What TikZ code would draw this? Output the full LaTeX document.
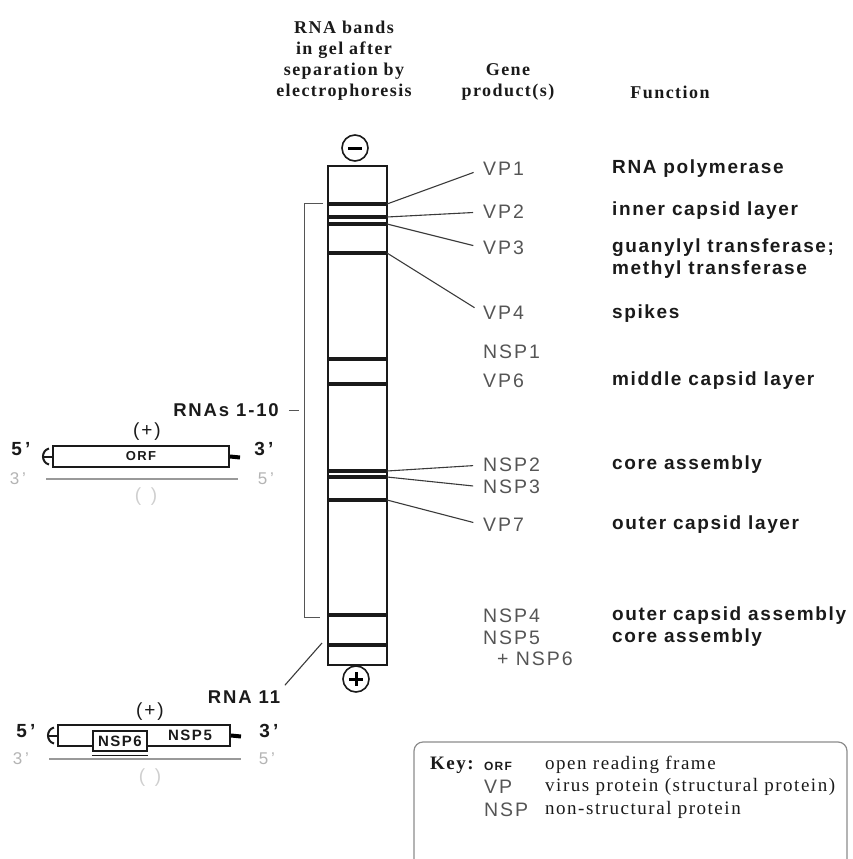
\documentclass[tikz,border=0pt]{standalone}
\usepackage{fontspec}
\setmainfont{Liberation Serif}
\setsansfont{Liberation Sans}
\newfontfamily\wideSans[LetterSpace=10]{Liberation Sans}
\newfontfamily\funcSans[LetterSpace=8.5]{Liberation Sans}
\newfontfamily\wideSerif[LetterSpace=8]{Liberation Serif}
\usetikzlibrary{calc}
\definecolor{Ink}{HTML}{1A1A1A}
\definecolor{GeneGray}{HTML}{555555}
\definecolor{LeadGray}{HTML}{3A3A3A}
\definecolor{StrandGray}{HTML}{999999}
\definecolor{PaleGray}{HTML}{B4B4B4}
\definecolor{FaintGray}{HTML}{CFCFCF}
\definecolor{RuleGray}{HTML}{8C8C8C}
\tikzset{
  hdr/.style={align=center, text=Ink, inner sep=0pt,
    font=\wideSerif\bfseries\fontsize{18}{21}\selectfont},
  gene/.style={anchor=west, inner sep=0pt, text=GeneGray,
    font=\wideSans\fontsize{19.5}{22}\selectfont},
  func/.style={anchor=west, inner sep=0pt, text=Ink, align=left,
    font=\funcSans\bfseries\fontsize{19}{22}\selectfont},
  seg/.style={inner sep=0pt, text=Ink,
    font=\wideSans\bfseries\fontsize{18.5}{22}\selectfont},
  gelbox/.style={draw=Ink, line width=2pt},
  band/.style={draw=Ink, line width=3.6pt},
  lead/.style={draw=LeadGray, line width=1.1pt, shorten >=10pt},
  brace/.style={draw=GeneGray, line width=1pt},
  pole/.style={circle, draw=Ink, line width=1.6pt, minimum size=26pt, inner sep=0pt},
  rnabox/.style={rectangle, draw=Ink, line width=2pt, inner sep=0pt,
    minimum height=21pt, text=Ink,
    font=\wideSans\bfseries\fontsize{13}{15}\selectfont},
  rnaline/.style={draw=Ink, line width=2pt},
  strand/.style={draw=StrandGray, line width=2.5pt},
  plus/.style={inner sep=0pt, text=Ink, font=\wideSans\fontsize{19}{22}\selectfont},
  prime/.style={inner sep=0pt, text=Ink, font=\sffamily\bfseries\fontsize{19}{22}\selectfont},
  paleprime/.style={prime, text=PaleGray, font=\sffamily\fontsize{17}{20}\selectfont},
  minus/.style={plus, text=FaintGray},
  keyhd/.style={anchor=west, inner sep=0pt, text=Ink,
    font=\wideSerif\bfseries\fontsize{19}{22}\selectfont},
  keyab/.style={gene},
  keytxt/.style={anchor=west, inner sep=0pt, text=Ink,
    font=\wideSerif\fontsize{19}{22}\selectfont},
}
\begin{document}
\begin{tikzpicture}[x=1pt, y=-1pt]
  \useasboundingbox (0,0) rectangle (852,859);

  % column headings
  \node (hgel)  [hdr] at (344,61) {RNA bands\\in gel after\\separation by\\electrophoresis};
  \node (hgene) [hdr] at (508,82) {Gene\\product(s)};
  \node (hfun)  [hdr] at (670,92) {Function};

  % the gel and its bands
  \draw[gelbox] (328,166) rectangle (387,665);
  \foreach \y [count=\i] in {204,217,224,253,359,384,471,477,500,615,645}
    \draw[band] (328,\y) -- (387,\y) coordinate (b\i);

  \node (neg) [pole] at (355,148) {};
  \draw[line width=3pt] ($(neg.center)+(-7,0)$) -- ($(neg.center)+(7,0)$);
  \node (pos) [pole] at (356,679) {};
  \draw[line width=3pt] ($(pos.center)+(-7,0)$) -- ($(pos.center)+(7,0)$);
  \draw[line width=3pt] ($(pos.center)+(0,-7)$) -- ($(pos.center)+(0,7)$);

  % gene products
  \node (vp1)  [gene] at (483,169) {VP1};
  \node (vp2)  [gene] at (483,212) {VP2};
  \node (vp3)  [gene] at (483,248) {VP3};
  \node (vp4)  [gene] at (483,313) {VP4};
  \node (nsp1) [gene] at (483,352) {NSP1};
  \node (vp6)  [gene] at (483,381) {VP6};
  \node (nsp2) [gene] at (483,465) {NSP2};
  \node (nsp3) [gene] at (483,487) {NSP3};
  \node (vp7)  [gene] at (483,525) {VP7};
  \node (nsp4) [gene] at (483,616) {NSP4};
  \node (nsp5) [gene] at (483,638) {NSP5};
  \node (nsp6) [gene] at (497,659) {+ NSP6};

  \draw[lead] (b1) -- (vp1.west);
  \draw[lead] (b2) -- (vp2.west);
  \draw[lead] (b3) -- (vp3.west);
  \draw[lead] (b4) -- (vp4.west);
  \draw[lead] (b7) -- (nsp2.west);
  \draw[lead] (b8) -- (nsp3.west);
  \draw[lead] (b9) -- (vp7.west);

  % functions
  \node (f1)  [func] at (612,169) {RNA polymerase};
  \node (f2)  [func] at (612,211) {inner capsid layer};
  \node (f3)  [func] at (612,259) {guanylyl transferase;\\methyl transferase};
  \node (f4)  [func] at (612,314) {spikes};
  \node (f6)  [func] at (612,381) {middle capsid layer};
  \node (f7)  [func] at (612,465) {core assembly};
  \node (f9)  [func] at (612,525) {outer capsid layer};
  \node (f10) [func] at (612,616) {outer capsid assembly};
  \node (f11) [func] at (612,638) {core assembly};

  % RNAs 1-10
  \draw[brace] (323,203) -- (304,203) -- (304,617) -- (320,617);
  \coordinate (brk) at (304,410);
  \node (rnas) [seg] at (226,410) {RNAs 1-10};
  \draw[brace, shorten <=10pt, shorten >=5pt] (rnas.east) -- (brk);

  \node (orf) [rnabox, minimum width=176pt] at (141,456.5) {ORF};
  \draw[rnaline] (orf.west) -- ++(-8,0);
  \draw[rnaline] ($(orf.west)+(-3,-8)$) .. controls ($(orf.west)+(-11,-6)$)
    and ($(orf.west)+(-11,6)$) .. ($(orf.west)+(-3,8)$);
  \draw[line width=4pt] (orf.east) -- ++(10,1);
  \node (orfp)  [plus]  at (147,432) {(+)};
  \node (orf5)  [prime] at (21,449) {5\,'};
  \node (orf3)  [prime] at (264,449) {3\,'};
  \draw[strand] ($(orf.south west)+(-6,11)$) -- ($(orf.south east)+(8,11)$);
  \node (orfc3) [paleprime] at (18,479) {3\,'};
  \node (orfc5) [paleprime] at (266,479) {5\,'};
  \node (orfm)  [minus] at (146,497) {(\,\,\,)};

  % RNA 11
  \coordinate (r11) at (322,643);
  \node (rna11) [seg] at (244,697) {RNA 11};
  \draw[lead, shorten >=7pt] (r11) -- (rna11.north east);

  \node (seg11) [rnabox, minimum width=172pt] at (144,735.5) {};
  \draw[rnaline] (seg11.west) -- ++(-8,0);
  \draw[rnaline] ($(seg11.west)+(-3,-8)$) .. controls ($(seg11.west)+(-11,-6)$)
    and ($(seg11.west)+(-11,6)$) .. ($(seg11.west)+(-3,8)$);
  \draw[line width=4pt] (seg11.east) -- ++(10,1);
  \node (box6) [rnabox, fill=white, minimum width=54pt, minimum height=20pt,
    font=\wideSans\bfseries\fontsize{15}{17}\selectfont] at (120,741) {NSP6};
  \draw[draw=Ink, line width=0.8pt] ($(box6.south west)+(0,3)$) -- ($(box6.south east)+(0,3)$);
  \node (lab5) [seg, font=\wideSans\bfseries\fontsize{15}{17}\selectfont] at (190,735) {NSP5};
  \node (p11)  [plus]  at (150,712) {(+)};
  \node (s11a) [prime] at (26,731) {5\,'};
  \node (s11b) [prime] at (269,731) {3\,'};
  \draw[strand] ($(seg11.south west)+(-8,12)$) -- ($(seg11.south east)+(10,12)$);
  \node (c11a) [paleprime] at (21,759) {3\,'};
  \node (c11b) [paleprime] at (267,759) {5\,'};
  \node (m11)  [minus] at (150,778) {(\,\,\,)};

  % key
  \draw[draw=RuleGray, line width=1.2pt, rounded corners=9pt]
    (414,859) -- (414,742) -- (847,742) -- (847,859);
  \node (key)  [keyhd] at (430,765) {Key:};
  \node (kab1) [keyab, font=\wideSans\bfseries\fontsize{12}{14}\selectfont, text=Ink] at (484,766) {ORF};
  \node (kab2) [keyab] at (484,787) {VP};
  \node (kab3) [keyab] at (484,810) {NSP};
  \node (ktx1) [keytxt] at (545,765) {open reading frame};
  \node (ktx2) [keytxt] at (545,787) {virus protein (structural protein)};
  \node (ktx3) [keytxt] at (545,810) {non-structural protein};
\end{tikzpicture}
\end{document}
